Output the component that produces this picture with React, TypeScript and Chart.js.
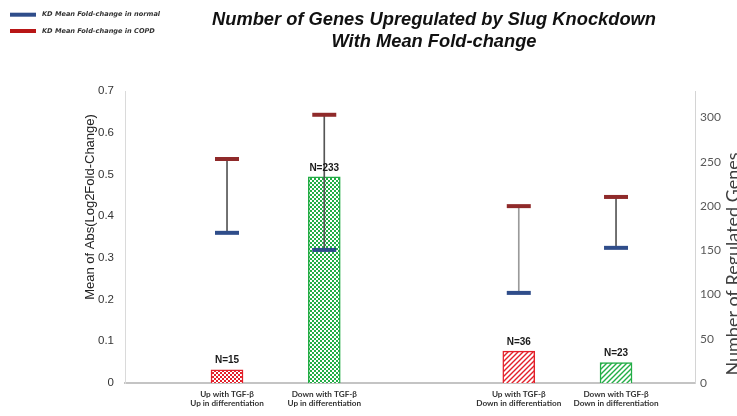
import React, { useEffect, useRef } from 'react';
import { Chart, registerables } from 'chart.js';

Chart.register(...registerables);

// ---- data ----
const categories: string[] = [
  'Up with TGF-β\nUp in differentiation',
  'Down with TGF-β\nUp in differentiation',
  '',
  'Up with TGF-β\nDown in differentiation',
  'Down with TGF-β\nDown in differentiation',
];
const geneCounts: (number | null)[] = [15, 233, null, 36, 23];
const meanFcNormal: (number | null)[] = [0.36, 0.319, null, 0.216, 0.324];
const meanFcCOPD: (number | null)[] = [0.537, 0.643, null, 0.424, 0.446];
const leftTicks: number[] = [0, 0.1, 0.2, 0.3, 0.4, 0.5, 0.6, 0.7];
const rightTicks: number[] = [0, 50, 100, 150, 200, 250, 300];
const titleLines: string[] = ['Number of Genes Upregulated by Slug Knockdown', 'With Mean Fold-change'];
const legendLabels: string[] = ['KD Mean Fold-change in normal', 'KD Mean Fold-change in COPD'];
const leftAxisTitle = 'Mean of Abs(Log2Fold-Change)';
const rightAxisTitle = 'Number of Regulated Genes';

// ---- styles ----
const RED_BAR = '#e3202a';
const GREEN_BAR = '#22ad45';
const NORMAL_COLOR = '#2f4d8a';
const COPD_COLOR = '#8f2a2a';
const LEGEND_RED = '#b81616';

function makeChecker(color: string): CanvasPattern | string {
  const c = document.createElement('canvas');
  c.width = 4;
  c.height = 4;
  const g = c.getContext('2d');
  if (!g) return color;
  g.fillStyle = '#ffffff';
  g.fillRect(0, 0, 4, 4);
  g.fillStyle = color;
  g.fillRect(0, 0, 2, 2);
  g.fillRect(2, 2, 2, 2);
  return g.createPattern(c, 'repeat') || color;
}

function makeHatch(color: string): CanvasPattern | string {
  const s = 5;
  const c = document.createElement('canvas');
  c.width = s;
  c.height = s;
  const g = c.getContext('2d');
  if (!g) return color;
  g.fillStyle = '#ffffff';
  g.fillRect(0, 0, s, s);
  g.strokeStyle = color;
  g.lineWidth = 1.4;
  g.beginPath();
  g.moveTo(-1, s + 1);
  g.lineTo(s + 1, -1);
  g.moveTo(-1, 1);
  g.lineTo(1, -1);
  g.moveTo(s - 1, s + 1);
  g.lineTo(s + 1, s - 1);
  g.stroke();
  return g.createPattern(c, 'repeat') || color;
}

export default function App() {
  const canvasRef = useRef<HTMLCanvasElement | null>(null);

  useEffect(() => {
    const canvas = canvasRef.current;
    if (!canvas) return;

    const idx = categories.map((_, i) => i).filter((i) => geneCounts[i] != null);
    const isUp = (i: number) => categories[i].startsWith('Up');
    const isUpDiff = (i: number) => categories[i].includes('Up in');
    const barColor = (i: number) => (isUp(i) ? RED_BAR : GREEN_BAR);
    const barFill = idx.map((i) => (isUpDiff(i) ? makeChecker(barColor(i)) : makeHatch(barColor(i))));

    const textPlugin = {
      id: 'texts',
      afterDraw(chart: any) {
        const ctx = chart.ctx as CanvasRenderingContext2D;
        ctx.save();
        // title
        ctx.fillStyle = '#111111';
        ctx.font = 'italic bold 18.3px "Liberation Sans", Arial, sans-serif';
        ctx.textAlign = 'center';
        ctx.textBaseline = 'alphabetic';
        ctx.fillText(titleLines[0], 434, 25);
        ctx.fillText(titleLines[1], 434, 47);

        // legend
        const legendColors = [NORMAL_COLOR, LEGEND_RED];
        ctx.font = 'italic bold 6.6px "DejaVu Sans", sans-serif';
        ctx.textAlign = 'left';
        ctx.textBaseline = 'middle';
        legendLabels.forEach((lab, k) => {
          const y = 14.7 + k * 16.3;
          ctx.fillStyle = legendColors[k];
          ctx.fillRect(10, y - 2, 26, 4);
          ctx.fillStyle = '#333333';
          ctx.fillText(lab, 42, y);
        });

        // left axis title
        ctx.fillStyle = '#222222';
        ctx.font = '13px "Liberation Sans", Arial, sans-serif';
        ctx.textAlign = 'center';
        ctx.textBaseline = 'middle';
        ctx.save();
        ctx.translate(90, 207);
        ctx.rotate(-Math.PI / 2);
        ctx.fillText(leftAxisTitle, 0, 0);
        ctx.restore();

        // right axis title
        ctx.fillStyle = '#404040';
        ctx.font = '18px Lato, "Open Sans", sans-serif';
        ctx.save();
        ctx.translate(733, 264);
        ctx.rotate(-Math.PI / 2);
        ctx.fillText(rightAxisTitle, 0, 0);
        ctx.restore();
        ctx.restore();
      },
      afterDatasetsDraw(chart: any) {
        const ctx = chart.ctx as CanvasRenderingContext2D;
        const meta = chart.getDatasetMeta(0);
        ctx.save();
        ctx.fillStyle = '#1a1a1a';
        ctx.font = 'bold 10px "Liberation Sans", Arial, sans-serif';
        ctx.textAlign = 'center';
        ctx.textBaseline = 'bottom';
        meta.data.forEach((bar: any, j: number) => {
          ctx.fillText('N=' + geneCounts[idx[j]], bar.x, bar.y - 4);
        });
        ctx.restore();
      },
    };

    const chart = new Chart(canvas, {
      type: 'bar',
      data: {
        datasets: [
          {
            type: 'bar',
            label: 'Number of genes',
            yAxisID: 'y2',
            data: idx.map((i) => ({ x: i, y: geneCounts[i] as number })),
            backgroundColor: barFill as any,
            borderColor: idx.map(barColor),
            borderWidth: 1.5,
            barThickness: 32,
            grouped: false,
            order: 4,
          } as any,
          {
            type: 'bar',
            label: 'range',
            yAxisID: 'y',
            data: idx.map((i) => ({ x: i, y: [meanFcNormal[i] as number, meanFcCOPD[i] as number] })),
            backgroundColor: idx.map((i) => (i === 3 ? '#9a9a9a' : '#555555')),
            borderWidth: 0,
            barThickness: 1,
            grouped: false,
            order: 3,
          } as any,
          {
            type: 'line',
            label: legendLabels[0],
            yAxisID: 'y',
            data: idx.map((i) => ({ x: i, y: meanFcNormal[i] as number })),
            showLine: false,
            pointStyle: 'line',
            pointRadius: 12,
            pointHoverRadius: 12,
            pointBorderWidth: 4,
            pointBorderColor: NORMAL_COLOR,
            borderColor: NORMAL_COLOR,
            order: 2,
          } as any,
          {
            type: 'line',
            label: legendLabels[1],
            yAxisID: 'y',
            data: idx.map((i) => ({ x: i, y: meanFcCOPD[i] as number })),
            showLine: false,
            pointStyle: 'line',
            pointRadius: 12,
            pointHoverRadius: 12,
            pointBorderWidth: 4,
            pointBorderColor: COPD_COLOR,
            borderColor: COPD_COLOR,
            order: 1,
          } as any,
        ],
      },
      options: {
        animation: false,
        responsive: true,
        maintainAspectRatio: false,
        layout: { padding: { top: 91, left: 0, right: 0, bottom: 0 } },
        plugins: {
          legend: { display: false },
          title: { display: false },
          tooltip: { enabled: false },
        },
        scales: {
          x: {
            type: 'linear',
            offset: false,
            min: -1.049,
            max: 4.812,
            grid: { display: false, drawTicks: false, tickLength: 0 },
            border: { display: true, color: '#c4c4c4', width: 2 },
            afterBuildTicks: (s: any) => {
              s.ticks = categories
                .map((c, i) => ({ value: i, c }))
                .filter((t) => t.c !== '')
                .map((t) => ({ value: t.value }));
            },
            afterFit: (s: any) => {
              s.height = 33;
            },
            ticks: {
              autoSkip: false,
              maxRotation: 0,
              minRotation: 0,
              padding: 6,
              color: '#333333',
              font: { family: 'Lato, "Open Sans", sans-serif', size: 8.2, weight: 'bold', lineHeight: 1.2 },
              callback: (v: any) => (categories[v] ? categories[v].split('\n') : ''),
            },
          } as any,
          y: {
            type: 'linear',
            position: 'left',
            min: 0,
            max: 0.7,
            grid: { display: false, drawTicks: false, tickLength: 0 },
            border: { display: true, color: '#dadada', width: 1 },
            afterBuildTicks: (s: any) => {
              s.ticks = leftTicks.map((v) => ({ value: v }));
            },
            afterFit: (s: any) => {
              s.width = 125;
            },
            ticks: {
              padding: 11,
              color: '#333333',
              font: { family: '"Liberation Sans", Arial, sans-serif', size: 11.5 },
              callback: (v: any) => String(Math.round(v * 10) / 10),
            },
          } as any,
          y2: {
            type: 'linear',
            position: 'right',
            min: 0,
            max: 330,
            grid: { display: false, drawTicks: false, tickLength: 0 },
            border: { display: true, color: '#d4d4d4', width: 1 },
            afterBuildTicks: (s: any) => {
              s.ticks = rightTicks.map((v) => ({ value: v }));
            },
            afterFit: (s: any) => {
              s.width = 42;
            },
            ticks: {
              padding: 5,
              color: '#595959',
              font: { family: 'Lato, "Open Sans", sans-serif', size: 12 },
            },
          } as any,
        },
      },
      plugins: [textPlugin],
    });

    return () => {
      chart.destroy();
    };
  }, []);

  return (
    <div style={{ position: 'absolute', left: 0, top: 0, width: 737, height: 416, background: '#ffffff' }}>
      <canvas ref={canvasRef} />
    </div>
  );
}
